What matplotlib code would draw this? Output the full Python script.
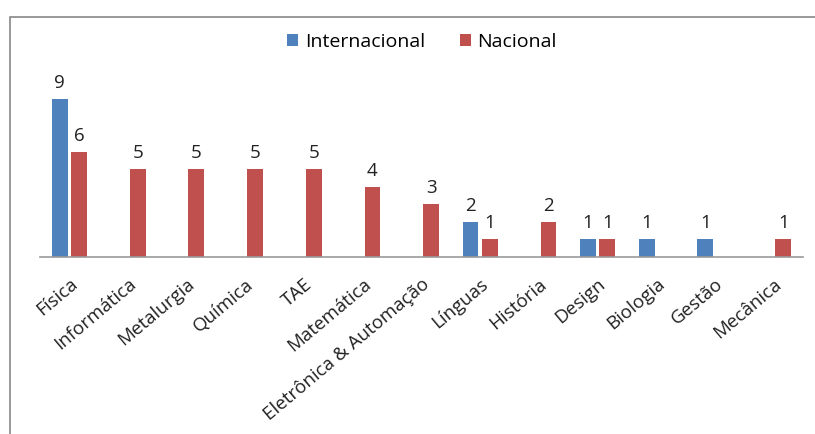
import numpy as np
import matplotlib.pyplot as plt
from matplotlib.patches import Rectangle

areas = ["Física", "Informática", "Metalurgia", "Química", "TAE", "Matemática",
         "Eletrônica & Automação", "Línguas", "História", "Design", "Biologia",
         "Gestão", "Mecânica"]
internacional = [9, 0, 0, 0, 0, 0, 0, 2, 0, 1, 1, 1, 0]
nacional = [6, 5, 5, 5, 5, 4, 3, 1, 2, 1, 0, 0, 1]

plt.rcParams['font.family'] = ['Open Sans', 'DejaVu Sans']

fig = plt.figure(figsize=(8.15, 4.34), dpi=100)
ax = fig.add_axes([40/815, 1 - 257/434, 763/815, 184/434])

x = np.arange(len(areas))
w = 0.27
b1 = ax.bar(x - 0.165, internacional, w, color='#4F81BD', label='Internacional')
b2 = ax.bar(x + 0.165, nacional, w, color='#C0504D', label='Nacional')

for bars, vals in [(b1, internacional), (b2, nacional)]:
    for r, v in zip(bars, vals):
        if v > 0:
            ax.text(r.get_x() + r.get_width()/2, v + 0.4, str(v),
                    ha='center', va='bottom', fontsize=13.5, color='#222')

ax.set_xlim(-0.5, len(areas) - 0.5)
ax.set_ylim(0, 10.5)
ax.set_yticks([])
ax.set_xticks(x)
ax.set_xticklabels(areas, rotation=40, ha='right', rotation_mode='anchor',
                   fontsize=13.5, color='#222')
ax.tick_params(axis='x', length=0, pad=13)
for s in ['top', 'right', 'left']:
    ax.spines[s].set_visible(False)
ax.spines['bottom'].set_color('#999999')
ax.spines['bottom'].set_linewidth(1.2)

fig.legend(loc='center', bbox_to_anchor=(0.518, 1 - 42/434), ncol=2, frameon=False,
           fontsize=14, handlelength=0.55, handleheight=0.55, handletextpad=0.35,
           columnspacing=1.8)

# moldura do grafico
fig.patches.append(Rectangle((10/815, -0.1), 1.1, 1 - 17/434 + 0.1,
                             transform=fig.transFigure, fill=False,
                             edgecolor='#888888', linewidth=1.2))

fig.savefig('out.png', dpi=100)
